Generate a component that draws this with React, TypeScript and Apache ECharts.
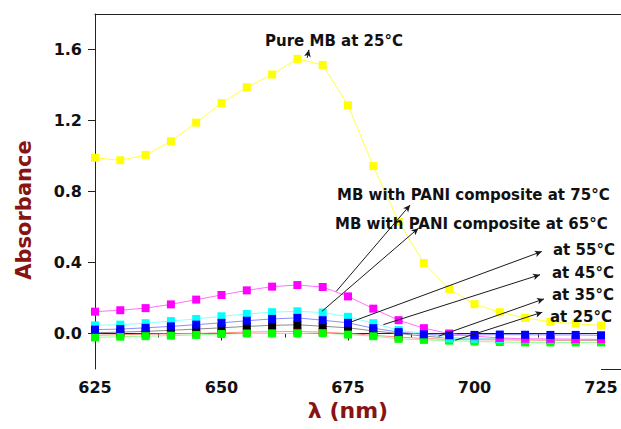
import React, { useEffect, useRef } from "react";
import * as echarts from "echarts";

// ---- data ----
const wavelengths = [625, 630, 635, 640, 645, 650, 655, 660, 665, 670, 675, 680, 685, 690, 695, 700, 705, 710, 715, 720, 725];
const pureMB25 = [0.99, 0.976, 1.006, 1.083, 1.188, 1.298, 1.387, 1.459, 1.547, 1.513, 1.286, 0.943, 0.63, 0.397, 0.25, 0.165, 0.12, 0.088, 0.066, 0.056, 0.045];
const pani75 = [0.123, 0.131, 0.143, 0.164, 0.191, 0.217, 0.243, 0.264, 0.273, 0.262, 0.209, 0.14, 0.075, 0.03, 0.0, -0.015, -0.025, -0.03, -0.03, -0.032, -0.033];
const pani65 = [0.046, 0.05, 0.058, 0.07, 0.082, 0.097, 0.11, 0.12, 0.125, 0.118, 0.094, 0.058, 0.019, 0.0, -0.028, -0.03, -0.032, -0.033, -0.034, -0.034, -0.035];
const pani55 = [0.022, 0.025, 0.032, 0.04, 0.05, 0.06, 0.072, 0.082, 0.088, 0.075, 0.06, 0.03, 0.008, -0.005, -0.01, -0.008, -0.006, -0.007, -0.008, -0.008, -0.01];
const pani45 = [0.004, 0.008, 0.012, 0.018, 0.025, 0.032, 0.04, 0.046, 0.049, 0.041, 0.032, 0.015, 0.0, -0.015, -0.025, -0.03, -0.032, -0.033, -0.035, -0.035, -0.036];
const pani35 = [-0.01, -0.007, -0.004, -0.002, 0.0, 0.004, 0.008, 0.01, 0.011, 0.008, 0.0, -0.01, -0.02, -0.028, -0.033, -0.035, -0.036, -0.037, -0.038, -0.038, -0.039];
const pani25 = [-0.022, -0.018, -0.015, -0.012, -0.008, -0.003, 0.0, 0.0, 0.0, 0.002, -0.006, -0.015, -0.03, -0.036, -0.04, -0.045, -0.048, -0.05, -0.05, -0.05, -0.05];

const xTickLabels = [625, 650, 675, 700, 725];
const yTickLabels = [0, 0.4, 0.8, 1.2, 1.6];

const seriesNames = [
  "Pure MB at 25°C",
  "MB with PANI composite at 35°C",
  "MB with PANI composite at 45°C",
  "MB with PANI composite at 25°C",
  "MB with PANI composite at 65°C",
  "MB with PANI composite at 75°C",
  "MB with PANI composite at 55°C",
];
const seriesValues = [pureMB25, pani35, pani45, pani25, pani65, pani75, pani55];
const markerColors = ["#ffff00", "#ff0000", "#000000", "#00ff00", "#00ffff", "#ff00ff", "#0000ff"];
const lineColors = ["#ffff40", "#ff8c8c", "#8c8c8c", "#8cff8c", "#8cffff", "#ff70ff", "#8c8cff"];

// annotation labels and their arrows (arrow ends in data units)
const annotationTexts = [
  "Pure MB at 25°C",
  "MB with PANI composite at 75°C",
  "MB with PANI composite at 65°C",
  "at 55°C",
  "at 45°C",
  "at 35°C",
  "at 25°C",
];
const arrowFrom = [[666.94, 1.553], [672.67, 0.237], [669.85, 0.125], [675.8, 0.067], [682.0, 0.05], [692.9, -0.015], [696.2, -0.038]];
const arrowTo = [[667.28, 1.598], [687.28, 0.724], [688.92, 0.593], [713.3, 0.462], [712.95, 0.331], [713.74, 0.195], [713.41, 0.12]];
const annotationPos = [[265, 41], [337, 195], [335, 224], [553, 250], [552, 273], [552, 295], [550, 317]];

const FONT = '"DejaVu Sans", "Liberation Sans", Arial, sans-serif';

export default function App() {
  const ref = useRef<HTMLDivElement>(null);

  useEffect(() => {
    document.body.style.margin = "0";
    if (!ref.current) return;
    const chart = echarts.init(ref.current, null, { renderer: "svg" });

    const series: any[] = seriesValues.map((vals, si) => ({
      type: "line",
      name: seriesNames[si],
      data: wavelengths.map((w, i) => [w, vals[i]]),
      symbol: "rect",
      symbolSize: 8,
      showAllSymbol: true,
      itemStyle: { color: markerColors[si] },
      lineStyle: { color: lineColors[si], width: 1 },
      emphasis: { disabled: true },
    }));

    series[series.length - 1].markLine = {
      silent: true,
      symbol: ["none", "arrow"],
      symbolSize: [5, 7],
      label: { show: false },
      emphasis: { disabled: true },
      lineStyle: { color: "#1a1a1a", width: 1, type: "solid" },
      data: arrowFrom.map((f, i) => [{ coord: f }, { coord: arrowTo[i] }]),
    };

    const graphics: any[] = annotationTexts.map((t, i) => ({
      type: "text",
      x: annotationPos[i][0],
      y: annotationPos[i][1],
      z: 100,
      style: {
        text: t,
        fill: "#111",
        fontFamily: FONT,
        fontWeight: "bold",
        fontSize: 15,
        align: "left",
        verticalAlign: "middle",
      },
    }));
    graphics.push({
      type: "text",
      x: 24,
      y: 210,
      rotation: Math.PI / 2,
      style: {
        text: "Absorbance",
        fill: "#871313",
        fontFamily: FONT,
        fontWeight: "bold",
        fontSize: 21,
        align: "center",
        verticalAlign: "middle",
      },
    });
    // axis line extension to right edge (bottom and top frame)
    graphics.push({ type: "line", shape: { x1: 601, y1: 369.5, x2: 621, y2: 369.5 }, style: { stroke: "#222", lineWidth: 1 } });
    graphics.push({ type: "line", shape: { x1: 601, y1: 14.5, x2: 621, y2: 14.5 }, style: { stroke: "#222", lineWidth: 1 } });

    chart.setOption({
      animation: false,
      backgroundColor: "#ffffff",
      grid: { left: 95, right: 20, top: 14, bottom: 60, containLabel: false },
      xAxis: [
        {
          type: "value",
          position: "bottom",
          min: 625,
          max: 725,
          interval: 25,
          name: "λ (nm)",
          nameLocation: "middle",
          nameGap: 27,
          nameTextStyle: { color: "#871313", fontFamily: FONT, fontWeight: "bold", fontSize: 22, verticalAlign: "top" },
          axisLine: { show: true, lineStyle: { color: "#222", width: 1 } },
          axisTick: { show: true, inside: false, length: 7, lineStyle: { color: "#222" } },
          minorTick: { show: true, splitNumber: 2, length: 4, lineStyle: { color: "#222" } },
          axisLabel: {
            show: true,
            margin: 10,
            color: "#111",
            fontFamily: FONT,
            fontWeight: "bold",
            fontSize: 16,
            customValues: xTickLabels,
            formatter: (v: number) => String(v),
          },
          splitLine: { show: false },
        },
        {
          type: "value",
          position: "top",
          min: 625,
          max: 725,
          axisLine: { show: true, onZero: false, lineStyle: { color: "#222", width: 1 } },
          axisTick: { show: false },
          axisLabel: { show: false },
          splitLine: { show: false },
        },
      ],
      yAxis: {
        type: "value",
        min: -0.2,
        max: 1.8,
        axisLine: { show: true, onZero: false, lineStyle: { color: "#222", width: 1 } },
        axisTick: { show: true, length: 7, customValues: yTickLabels, lineStyle: { color: "#222" } },
        axisLabel: {
          margin: 13,
          color: "#111",
          fontFamily: FONT,
          fontWeight: "bold",
          fontSize: 16,
          customValues: yTickLabels,
          formatter: (v: number) => v.toFixed(1),
        },
        splitLine: { show: false },
      },
      series,
      graphic: graphics,
    });

    return () => chart.dispose();
  }, []);

  return <div ref={ref} style={{ width: 621, height: 429 }} />;
}
